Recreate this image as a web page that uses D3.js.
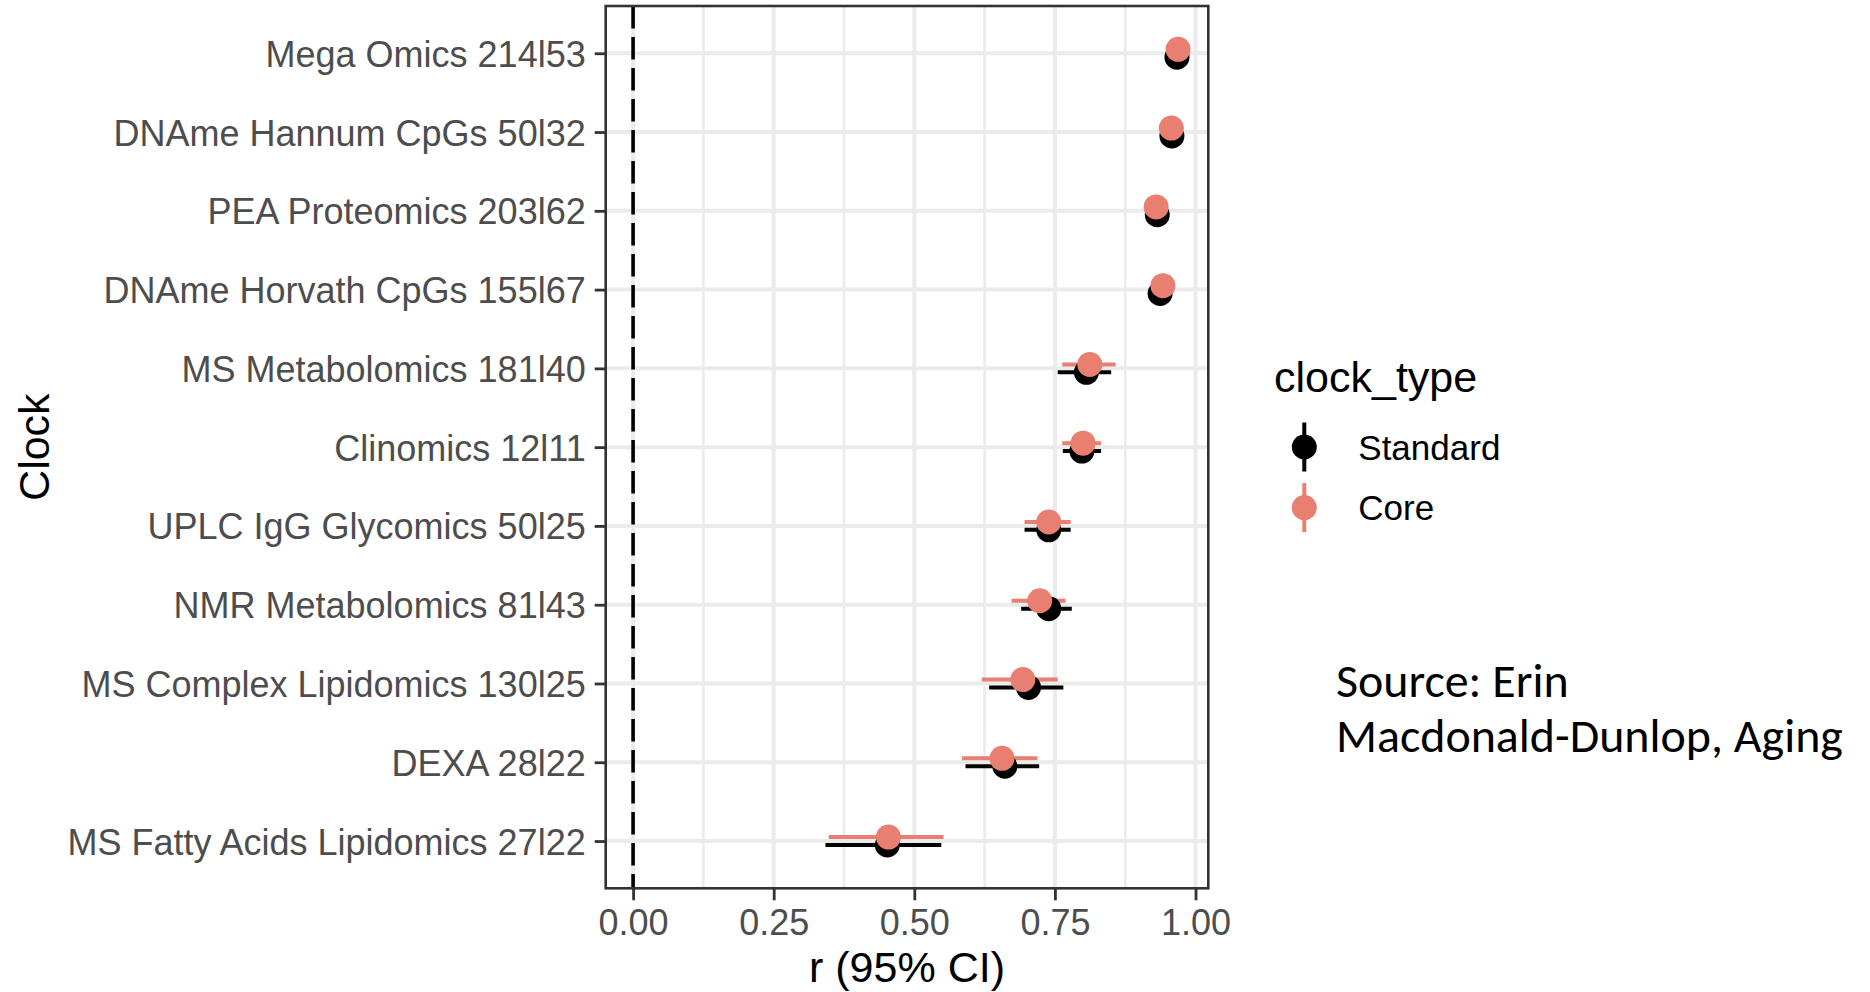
<!DOCTYPE html>
<html>
<head>
<meta charset="utf-8">
<script src="https://cdn.jsdelivr.net/npm/d3@7"></script>
<style>
  body { margin: 0; background: #fff; }
  svg { display: block; font-family: "Liberation Sans", Arial, Helvetica, sans-serif; }
</style>
</head>
<body>
<div class="container"></div>
<script>
const clocks = [
    "Mega Omics 214l53",
    "DNAme Hannum CpGs 50l32",
    "PEA Proteomics 203l62",
    "DNAme Horvath CpGs 155l67",
    "MS Metabolomics 181l40",
    "Clinomics 12l11",
    "UPLC IgG Glycomics 50l25",
    "NMR Metabolomics 81l43",
    "MS Complex Lipidomics 130l25",
    "DEXA 28l22",
    "MS Fatty Acids Lipidomics 27l22"
];

const clockTypes = ["Standard", "Core"];
const typeColors = ["#000000", "#E97F70"];

// r and 95% CI, standard clocks
const stdR  = [0.967, 0.958, 0.932, 0.937, 0.806, 0.798, 0.739, 0.739, 0.703, 0.661, 0.452];
const stdLo = [0.962, 0.952, 0.925, 0.930, 0.755, 0.764, 0.696, 0.690, 0.633, 0.591, 0.342];
const stdHi = [0.972, 0.963, 0.938, 0.943, 0.850, 0.832, 0.778, 0.780, 0.765, 0.722, 0.548];
// r and 95% CI, core clocks
const coreR  = [0.969, 0.957, 0.930, 0.942, 0.812, 0.800, 0.739, 0.723, 0.693, 0.656, 0.454];
const coreLo = [0.964, 0.951, 0.923, 0.936, 0.763, 0.763, 0.696, 0.673, 0.620, 0.585, 0.348];
const coreHi = [0.974, 0.962, 0.936, 0.948, 0.858, 0.832, 0.778, 0.769, 0.755, 0.719, 0.552];

const xTicks = [0, 0.25, 0.5, 0.75, 1];
const xMinor = [0.125, 0.375, 0.625, 0.875];

const sourceLines = ["Source: Erin", "Macdonald-Dunlop, Aging"];

const drawChart = () => {
    const w = 1870, h = 992,
        panel = { left: 605.7, right: 1208.3, top: 6, bottom: 888.3 };

    const rows = [];
    clocks.forEach((c, i) => {
        rows.push({ clock: c, type: 0, r: stdR[i], lo: stdLo[i], hi: stdHi[i] });
        rows.push({ clock: c, type: 1, r: coreR[i], lo: coreLo[i], hi: coreHi[i] });
    });

    // ggplot style: data range (including the 0 reference line) expanded 5% each side
    const lo = Math.min(0, d3.min(rows, d => d.lo)),
        hi = d3.max(rows, d => d.hi),
        pad = (hi - lo) * 0.05;

    const xScale = d3.scaleLinear()
        .domain([lo - pad, hi + pad])
        .range([panel.left, panel.right]);

    const yScale = d3.scalePoint()
        .domain(clocks)
        .range([panel.top, panel.bottom])
        .padding(0.6);

    const dodge = yScale.step() * 0.05;
    const yPos = d => yScale(d.clock) + (d.type === 0 ? dodge : -dodge);

    const svg = d3.select("div.container")
        .append("svg")
        .attr("width", w)
        .attr("height", h);

    // grid
    const grid = svg.append("g");
    grid.selectAll("line.minor")
        .data(xMinor)
        .enter()
        .append("line")
        .attr("x1", d => xScale(d)).attr("x2", d => xScale(d))
        .attr("y1", panel.top).attr("y2", panel.bottom)
        .attr("stroke", "#EBEBEB").attr("stroke-width", 2.5);
    grid.selectAll("line.major")
        .data(xTicks)
        .enter()
        .append("line")
        .attr("x1", d => xScale(d)).attr("x2", d => xScale(d))
        .attr("y1", panel.top).attr("y2", panel.bottom)
        .attr("stroke", "#EBEBEB").attr("stroke-width", 4);
    grid.selectAll("line.row")
        .data(clocks)
        .enter()
        .append("line")
        .attr("x1", panel.left).attr("x2", panel.right)
        .attr("y1", d => yScale(d)).attr("y2", d => yScale(d))
        .attr("stroke", "#EBEBEB").attr("stroke-width", 4);

    // reference line at r = 0
    svg.append("line")
        .attr("x1", xScale(0)).attr("x2", xScale(0))
        .attr("y1", panel.top).attr("y2", panel.bottom)
        .attr("stroke", "#000").attr("stroke-width", 3.6)
        .attr("stroke-dasharray", "22.5,8.5");

    // confidence intervals, then points
    svg.selectAll("line.ci")
        .data(rows)
        .enter()
        .append("line")
        .attr("class", "ci")
        .attr("x1", d => xScale(d.lo)).attr("x2", d => xScale(d.hi))
        .attr("y1", yPos).attr("y2", yPos)
        .attr("stroke", d => typeColors[d.type])
        .attr("stroke-width", 4);

    svg.selectAll("circle.dot")
        .data(rows)
        .enter()
        .append("circle")
        .attr("class", "dot")
        .attr("cx", d => xScale(d.r))
        .attr("cy", yPos)
        .attr("r", 12.5)
        .attr("fill", d => typeColors[d.type]);

    // panel border
    svg.append("rect")
        .attr("x", panel.left).attr("y", panel.top)
        .attr("width", panel.right - panel.left)
        .attr("height", panel.bottom - panel.top)
        .attr("fill", "none")
        .attr("stroke", "#333333").attr("stroke-width", 2.6);

    // axes
    const xAxis = d3.axisBottom(xScale)
        .tickValues(xTicks)
        .tickFormat(d3.format(".2f"))
        .tickSize(12)
        .tickPadding(9);
    const gx = svg.append("g")
        .attr("id", "x-axis")
        .attr("transform", "translate(0," + panel.bottom + ")")
        .call(xAxis);

    const yAxis = d3.axisLeft(yScale)
        .tickSize(11)
        .tickPadding(9);
    const gy = svg.append("g")
        .attr("id", "y-axis")
        .attr("transform", "translate(" + panel.left + ",0)")
        .call(yAxis);

    [gx, gy].forEach(g => {
        g.select(".domain").remove();
        g.selectAll(".tick line").attr("stroke", "#333333").attr("stroke-width", 2.8);
        g.selectAll(".tick text")
            .attr("fill", "#4D4D4D")
            .style("font-family", "'Liberation Sans', Arial, sans-serif")
            .style("font-size", "36px");
    });
    gx.selectAll(".tick text").attr("dy", "0.72em");
    gy.selectAll(".tick text").attr("dy", "0.36em");

    svg.append("text")
        .text("r (95% CI)")
        .attr("x", (panel.left + panel.right) / 2)
        .attr("y", 982)
        .attr("text-anchor", "middle")
        .style("font-size", "43px");

    svg.append("text")
        .text("Clock")
        .attr("transform", "translate(49," + ((panel.top + panel.bottom) / 2) + ") rotate(-90)")
        .attr("text-anchor", "middle")
        .style("font-size", "43px");

    // legend
    const legend = svg.append("g").attr("transform", "translate(1274,0)");
    legend.append("text")
        .text("clock_type")
        .attr("x", 0).attr("y", 392)
        .style("font-size", "43px");

    const keys = legend.selectAll("g.key")
        .data(clockTypes)
        .enter()
        .append("g")
        .attr("class", "key")
        .attr("transform", (d, i) => "translate(30.3," + (447 + i * 60.6) + ")");
    keys.append("line")
        .attr("y1", -24.5).attr("y2", 24.5)
        .attr("stroke", (d, i) => typeColors[i])
        .attr("stroke-width", 4);
    keys.append("circle")
        .attr("r", 12.5)
        .attr("fill", (d, i) => typeColors[i]);
    keys.append("text")
        .text(d => d)
        .attr("x", 54).attr("dy", "0.36em")
        .style("font-size", "35px");

    // source note
    const note = svg.append("g").attr("transform", "translate(1336,0)");
    const noteText = note.selectAll("text")
        .data(sourceLines)
        .enter()
        .append("text")
        .text(d => d)
        .attr("x", 0)
        .attr("y", (d, i) => 697 + i * 55)
        .style("font-family", "Carlito, 'Open Sans', 'Noto Sans', sans-serif")
        .style("font-size", "36px")
        .attr("fill", "#000");
    const longest = noteText.nodes()[1].getComputedTextLength();
    noteText.style("font-size", (36 * 507 / longest) + "px");
};

document.onreadystatechange = () => {
    if (document.readyState === "complete")
        drawChart();
};
</script>
</body>
</html>
